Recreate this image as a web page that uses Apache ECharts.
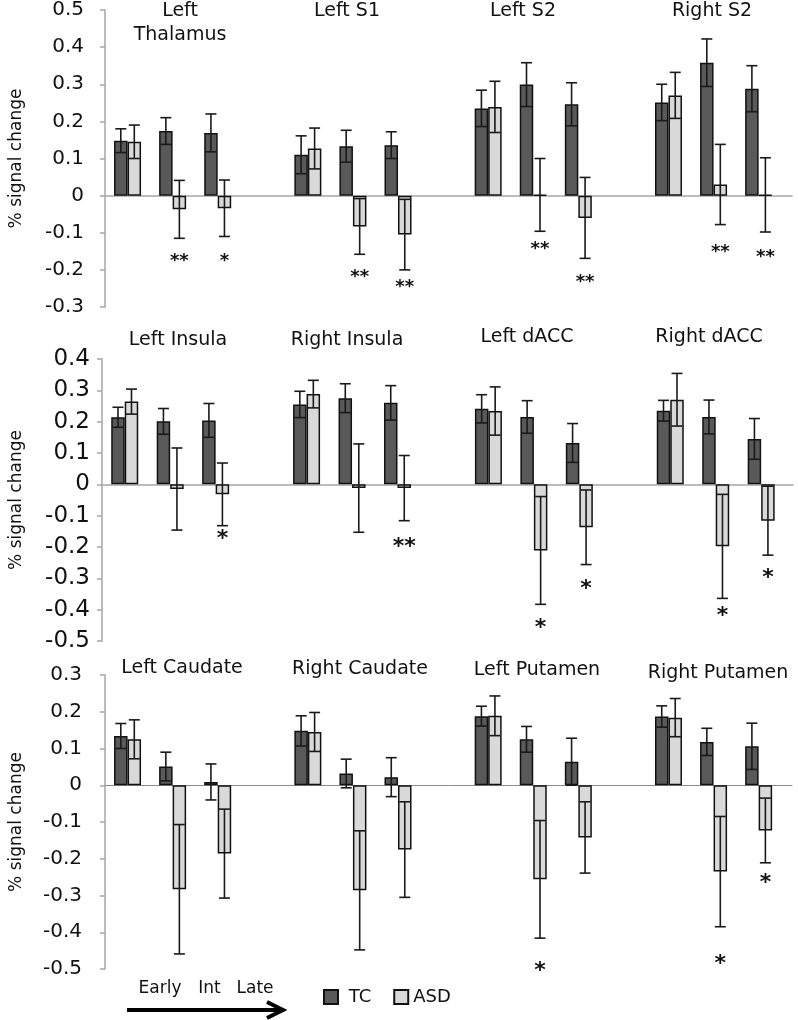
<!DOCTYPE html>
<html>
<head>
<meta charset="utf-8">
<script src="https://cdn.jsdelivr.net/npm/echarts@6/dist/echarts.min.js"></script>
<style>
html,body{margin:0;padding:0;background:#fff}
#main{width:798px;height:1020px}
</style>
</head>
<body>
<div id="main"></div>
<script>
var FONT = 'DejaVu Sans';
var phases = ['Early', 'Int', 'Late'];

// top panel
var regions1 = ['Left\nThalamus', 'Left S1', 'Left S2', 'Right S2'];
var tcMean1  = [0.148, 0.174, 0.169, 0.110, 0.133, 0.136, 0.235, 0.299, 0.246, 0.251, 0.358, 0.288];
var tcErr1   = [0.032, 0.036, 0.051, 0.051, 0.043, 0.036, 0.049, 0.059, 0.058, 0.049, 0.064, 0.062];
var asdMean1 = [0.145, -0.037, -0.034, 0.127, -0.083, -0.105, 0.239, 0.002, -0.060, 0.270, 0.030, 0.002];
var asdErr1  = [0.045, 0.078, 0.076, 0.055, 0.075, 0.095, 0.069, 0.098, 0.109, 0.062, 0.108, 0.100];
var stars1   = ['', '**', '*', '', '**', '**', '', '**', '**', '', '**', '**'];
var starAt1  = [0, -0.171, -0.171, 0, -0.213, -0.240, 0, -0.137, -0.225, 0, -0.146, -0.159];

// middle panel
var regions2 = ['Left Insula', 'Right Insula', 'Left dACC', 'Right dACC'];
var tcMean2  = [0.214, 0.201, 0.204, 0.255, 0.275, 0.260, 0.241, 0.215, 0.132, 0.235, 0.215, 0.145];
var tcErr2   = [0.032, 0.041, 0.054, 0.042, 0.046, 0.055, 0.045, 0.052, 0.062, 0.033, 0.054, 0.065];
var asdMean2 = [0.264, -0.015, -0.032, 0.288, -0.012, -0.012, 0.234, -0.211, -0.137, 0.270, -0.198, -0.116];
var asdErr2  = [0.040, 0.131, 0.100, 0.044, 0.141, 0.104, 0.077, 0.172, 0.119, 0.084, 0.166, 0.110];
var stars2   = ['', '', '*', '', '', '**', '', '*', '*', '', '*', '*'];
var starAt2  = [0, 0, -0.166, 0, 0, -0.190, 0, -0.449, -0.323, 0, -0.412, -0.290];

// bottom panel
var regions3 = ['Left Caudate', 'Right Caudate', 'Left Putamen', 'Right Putamen'];
var tcMean3  = [0.134, 0.051, 0.009, 0.148, 0.032, 0.022, 0.188, 0.125, 0.064, 0.187, 0.118, 0.106];
var tcErr3   = [0.034, 0.039, 0.049, 0.041, 0.039, 0.053, 0.027, 0.035, 0.064, 0.029, 0.037, 0.063];
var asdMean3 = [0.125, -0.283, -0.186, 0.145, -0.286, -0.175, 0.189, -0.256, -0.142, 0.184, -0.235, -0.123];
var asdErr3  = [0.053, 0.176, 0.121, 0.053, 0.162, 0.130, 0.054, 0.160, 0.097, 0.052, 0.150, 0.088];
var stars3   = ['', '', '', '', '', '', '', '*', '', '', '*', '*'];
var starAt3  = [0, 0, 0, 0, 0, 0, 0, -0.498, 0, 0, -0.478, -0.257];

var yMin = [-0.3, -0.5, -0.5], yMax = [0.5, 0.4, 0.3];

var panels = [
  {regions: regions1, tc: tcMean1, tcE: tcErr1, asd: asdMean1, asdE: asdErr1, stars: stars1, starAt: starAt1},
  {regions: regions2, tc: tcMean2, tcE: tcErr2, asd: asdMean2, asdE: asdErr2, stars: stars2, starAt: starAt2},
  {regions: regions3, tc: tcMean3, tcE: tcErr3, asd: asdMean3, asdE: asdErr3, stars: stars3, starAt: starAt3}
];

// layout
var gridBox = [
  {left: 101, width: 691, top: 10, height: 297, xMax: 14.74, label: 20, margin: 21, starSize: 18, zero: '#a6a6a6', zeroW: 1.5},
  {left: 98, width: 695, top: 359, height: 282, xMax: 14.70, label: 23, margin: 12, starSize: 22, zero: '#a6a6a6', zeroW: 1.5},
  {left: 101, width: 691, top: 675, height: 294, xMax: 14.74, label: 20, margin: 23, starSize: 22, zero: '#8c8c8c', zeroW: 1}
];
var titlePos = [
  [[180, 11], [347, 11], [523, 11], [712, 11]],
  [[178, 340], [347, 340], [527, 337], [709, 337]],
  [[182, 668], [360, 669], [537, 670], [718, 673]]
];
var BAR_W = 13.5, CAP = 5.5;

function slot(k) { return Math.floor(k / 3) * 4 + (k % 3); }

function errSeries(pi, means, errs, side) {
  return {
    type: 'custom', xAxisIndex: pi, yAxisIndex: pi, z: 5, silent: true,
    data: means.map(function (m, k) { return [slot(k), m, errs[k]]; }),
    renderItem: function (params, api) {
      var x = api.value(0), m = api.value(1), e = api.value(2);
      var hi = api.coord([x, m + e]), lo = api.coord([x, m - e]);
      var cx = hi[0] + side * BAR_W / 2;
      var st = {stroke: '#1a1a1a', lineWidth: 1.6};
      return {type: 'group', children: [
        {type: 'line', shape: {x1: cx, y1: hi[1], x2: cx, y2: lo[1]}, style: st},
        {type: 'line', shape: {x1: cx - CAP, y1: hi[1], x2: cx + CAP, y2: hi[1]}, style: st},
        {type: 'line', shape: {x1: cx - CAP, y1: lo[1], x2: cx + CAP, y2: lo[1]}, style: st}
      ]};
    }
  };
}

function starSeries(pi, p) {
  var idx = [];
  p.stars.forEach(function (s, k) { if (s) idx.push(k); });
  return {
    type: 'custom', xAxisIndex: pi, yAxisIndex: pi, z: 6, silent: true,
    data: idx.map(function (k) { return [slot(k), p.starAt[k]]; }),
    renderItem: function (params, api) {
      var pt = api.coord([api.value(0), api.value(1)]);
      var fs = gridBox[pi].starSize;
      return {type: 'text', x: pt[0] + BAR_W / 2, y: pt[1] + fs * 0.15, style: {
        text: p.stars[idx[params.dataIndex]], fill: '#111', align: 'center', verticalAlign: 'middle',
        font: 'bold ' + fs + 'px "' + FONT + '"'
      }};
    }
  };
}

var grids = [], xAxes = [], yAxes = [], series = [], graphics = [];

panels.forEach(function (p, pi) {
  var g = gridBox[pi];
  grids.push({left: g.left, width: g.width, top: g.top, height: g.height});
  xAxes.push({
    gridIndex: pi, type: 'value', min: -0.5, max: g.xMax,
    axisLine: {show: true, onZero: true, lineStyle: {color: g.zero, width: g.zeroW}},
    axisTick: {show: false}, axisLabel: {show: false}, splitLine: {show: false}
  });
  yAxes.push({
    gridIndex: pi, type: 'value', min: yMin[pi], max: yMax[pi], interval: 0.1,
    axisLine: {show: true, onZero: false, lineStyle: {color: '#a6a6a6', width: 1.5}},
    axisTick: {show: true, length: 5, lineStyle: {color: '#a6a6a6', width: 1.5}},
    splitLine: {show: false},
    axisLabel: {margin: g.margin, fontFamily: FONT, fontSize: g.label, color: '#111',
      formatter: function (v) { return String(+v.toFixed(1)); }},
    name: '% signal change', nameLocation: 'middle', nameGap: g.left - 21,
    nameTextStyle: {fontFamily: FONT, fontSize: 17, color: '#111'}
  });
  series.push({
    type: 'bar', name: 'TC', xAxisIndex: pi, yAxisIndex: pi, barWidth: BAR_W, barGap: '0%',
    data: p.tc.map(function (v, k) { return [slot(k), v]; }),
    itemStyle: {color: '#595959', borderColor: '#111', borderWidth: 1.5}
  });
  series.push({
    type: 'bar', name: 'ASD', xAxisIndex: pi, yAxisIndex: pi, barWidth: BAR_W, barGap: '0%',
    data: p.asd.map(function (v, k) { return [slot(k), v]; }),
    itemStyle: {color: '#d9d9d9', borderColor: '#111', borderWidth: 1.5}
  });
  series.push(errSeries(pi, p.tc, p.tcE, -1));
  series.push(errSeries(pi, p.asd, p.asdE, 1));
  series.push(starSeries(pi, p));

  // region titles
  p.regions.forEach(function (r, ri) {
    r.split('\n').forEach(function (line, li) {
      graphics.push({type: 'text', x: titlePos[pi][ri][0], y: titlePos[pi][ri][1] + li * 24,
        style: {text: line, fill: '#111', align: 'center', verticalAlign: 'middle', font: '19px "' + FONT + '"'}});
    });
  });
});

// time arrow under the bottom panel
var phaseX = [160, 209.5, 255];
phases.forEach(function (t, i) {
  graphics.push({type: 'text', x: phaseX[i], y: 989,
    style: {text: t, fill: '#111', align: 'center', verticalAlign: 'middle', font: '17px "' + FONT + '"'}});
});
graphics.push({type: 'line', shape: {x1: 127, y1: 1010, x2: 280, y2: 1010}, style: {stroke: '#000', lineWidth: 4}});
graphics.push({type: 'polyline', shape: {points: [[267, 1002], [283, 1010], [267, 1018]]}, style: {stroke: '#000', lineWidth: 4, fill: null}});

var myChart = echarts.init(document.getElementById('main'));
myChart.setOption({
  animation: false,
  backgroundColor: '#fff',
  grid: grids,
  xAxis: xAxes,
  yAxis: yAxes,
  legend: {
    left: 318, top: 983, itemWidth: 14, itemHeight: 14, itemGap: 22, icon: 'rect',
    data: ['TC', 'ASD'],
    formatter: function (n) { return n === 'TC' ? ' TC' : n; },
    textStyle: {fontFamily: FONT, fontSize: 18, color: '#111'}
  },
  series: series,
  graphic: graphics
});
</script>
</body>
</html>
